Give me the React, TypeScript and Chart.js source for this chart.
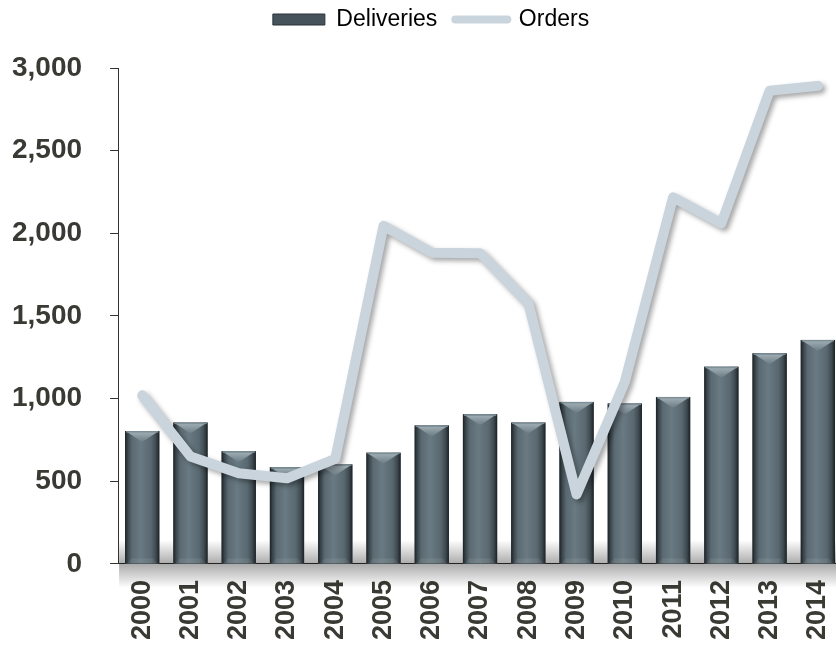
import React, { useEffect, useRef } from "react";
import { Chart, registerables } from "chart.js";

Chart.register(...registerables);

const years = ["2000","2001","2002","2003","2004","2005","2006","2007","2008","2009","2010","2011","2012","2013","2014"];
const deliveries = [804, 855, 682, 585, 602, 673, 838, 905, 855, 980, 970, 1010, 1193, 1274, 1355];
const orders = [1020, 650, 548, 518, 635, 2045, 1883, 1880, 1578, 420, 1100, 2218, 2060, 2862, 2892];
const yTicks = [0, 500, 1000, 1500, 2000, 2500, 3000];

const LINE_COLOR = "#c9d4dd";
const FONT = "'Liberation Sans', Arial, sans-serif";

const legendSpacing = {
  id: "legendSpacing",
  beforeInit(chart: any) {
    const legend = chart.legend;
    if (!legend) return;
    const origFit = legend.fit;
    legend.fit = function () {
      origFit.call(this);
      this.height += 27;
    };
  },
  afterLayout(chart: any) {
    const legend = chart.legend;
    if (!legend) return;
    legend.left += 18;
    legend.right += 18;
  },
};

const effectsPlugin = {
  id: "effects",
  beforeDatasetsDraw(chart: any) {
    const { ctx, chartArea } = chart;
    const yBase = chart.scales.y.getPixelForValue(0);
    ctx.save();
    const g = ctx.createLinearGradient(0, yBase - 24, 0, yBase + 24);
    g.addColorStop(0, "rgba(0,0,0,0)");
    g.addColorStop(0.5, "rgba(0,0,0,0.33)");
    g.addColorStop(1, "rgba(0,0,0,0)");
    ctx.fillStyle = g;
    ctx.fillRect(chartArea.left + 1, yBase - 24, chartArea.right - chartArea.left, 48);
    ctx.restore();
  },
  beforeDatasetDraw(chart: any, args: any) {
    if (args.index === 1) {
      const ctx = chart.ctx;
      ctx.save();
      ctx.shadowColor = "rgba(0,0,0,0.35)";
      ctx.shadowBlur = 5;
      ctx.shadowOffsetX = 3;
      ctx.shadowOffsetY = 3;
    }
  },
  afterDatasetDraw(chart: any, args: any) {
    const ctx = chart.ctx;
    if (args.index === 1) {
      ctx.restore();
      return;
    }
    if (args.index !== 0) return;
    const meta = chart.getDatasetMeta(0);
    ctx.save();
    meta.data.forEach((el: any) => {
      const { x, y, base, width } = el.getProps(["x", "y", "base", "width"], true);
      const left = x - width / 2;
      const right = x + width / 2;
      const top = Math.min(y, base);
      const bottom = Math.max(y, base);
      const body = ctx.createLinearGradient(left, 0, right, 0);
      body.addColorStop(0, "#1b2124");
      body.addColorStop(0.08, "#3a454b");
      body.addColorStop(0.2, "#5b6a72");
      body.addColorStop(0.45, "#6a7a82");
      body.addColorStop(0.75, "#5a6971");
      body.addColorStop(0.9, "#3e4a50");
      body.addColorStop(1, "#1b2124");
      ctx.fillStyle = body;
      ctx.fillRect(left, top, width, bottom - top);
      const d = 11;
      const tg = ctx.createLinearGradient(0, top, 0, top + d);
      tg.addColorStop(0, "#a5b3ba");
      tg.addColorStop(1, "#6c7c84");
      ctx.beginPath();
      ctx.moveTo(left + 2, top + 1);
      ctx.lineTo(right - 2, top + 1);
      ctx.lineTo(x, top + d);
      ctx.closePath();
      ctx.fillStyle = tg;
      ctx.fill();
      ctx.fillStyle = "#7f8f97";
      ctx.fillRect(left + 1, top, width - 2, 1.5);
      ctx.beginPath();
      ctx.moveTo(left + 2, bottom);
      ctx.lineTo(right - 2, bottom);
      ctx.lineTo(right - 6, bottom - 5);
      ctx.lineTo(left + 6, bottom - 5);
      ctx.closePath();
      ctx.fillStyle = "rgba(255,255,255,0.08)";
      ctx.fill();
    });
    ctx.restore();
  },
};

export default function App() {
  const ref = useRef<HTMLCanvasElement | null>(null);

  useEffect(() => {
    if (!ref.current) return;
    const chart = new Chart(ref.current, {
      type: "bar",
      data: {
        labels: years,
        datasets: [
          {
            type: "bar",
            label: "Deliveries",
            data: deliveries,
            backgroundColor: "#56646b",
            borderWidth: 0,
            barPercentage: 0.71,
            categoryPercentage: 1,
            order: 1,
          },
          {
            type: "line",
            label: "Orders",
            data: orders,
            borderColor: LINE_COLOR,
            backgroundColor: LINE_COLOR,
            borderWidth: 10,
            pointRadius: 0,
            tension: 0,
            borderCapStyle: "round",
            borderJoinStyle: "round",
            fill: false,
            order: 0,
          } as any,
        ],
      },
      options: {
        responsive: false,
        animation: false,
        layout: { padding: { left: -16, right: 8, top: -10, bottom: -8 } },
        plugins: {
          tooltip: { enabled: false },
          legend: {
            position: "top",
            labels: {
              font: { family: FONT, size: 23 },
              color: "#000",
              usePointStyle: true,
              pointStyleWidth: 52,
              boxHeight: 11,
              padding: 18,
              generateLabels: (c: any) => {
                const items = Chart.defaults.plugins.legend.labels.generateLabels(c);
                items.sort((a: any, b: any) => a.datasetIndex - b.datasetIndex);
                return items.map((it: any) => {
                  if (it.datasetIndex === 0) {
                    return { ...it, pointStyle: "rect", fillStyle: "#46535a", strokeStyle: "#2a3237", lineWidth: 1 };
                  }
                  return { ...it, pointStyle: "line", fillStyle: LINE_COLOR, strokeStyle: LINE_COLOR, lineWidth: 8, lineCap: "round" };
                });
              },
            },
          },
        },
        scales: {
          x: {
            offset: true,
            grid: { display: false, drawTicks: false },
            border: { display: true, color: "#333", width: 1 },
            afterFit: (scale: any) => {
              scale.paddingLeft = 0;
              scale.paddingRight = 0;
            },
            ticks: {
              font: { family: FONT, size: 27, weight: "bold" },
              color: "#3a3a34",
              minRotation: 90,
              maxRotation: 90,
              padding: 16,
              autoSkip: false,
            },
          },
          y: {
            min: 0,
            max: 3000,
            afterBuildTicks: (axis: any) => {
              axis.ticks = yTicks.map((v) => ({ value: v }));
            },
            grid: { display: true, drawOnChartArea: false, drawTicks: true, tickLength: 8, color: "#333" },
            border: { display: true, color: "#333", width: 1 },
            ticks: {
              font: { family: FONT, size: 28, weight: "bold" },
              color: "#3a3a34",
              padding: 28,
              callback: (v: any) => Number(v).toLocaleString("en-US"),
            },
          },
        },
      },
      plugins: [legendSpacing, effectsPlugin],
    });
    return () => chart.destroy();
  }, []);

  return (
    <div style={{ position: "fixed", left: 0, top: 0, width: 836, height: 648, overflow: "hidden", background: "#fff" }}>
      <canvas ref={ref} width={850} height={648} style={{ display: "block", width: 850, height: 648 }} />
    </div>
  );
}
